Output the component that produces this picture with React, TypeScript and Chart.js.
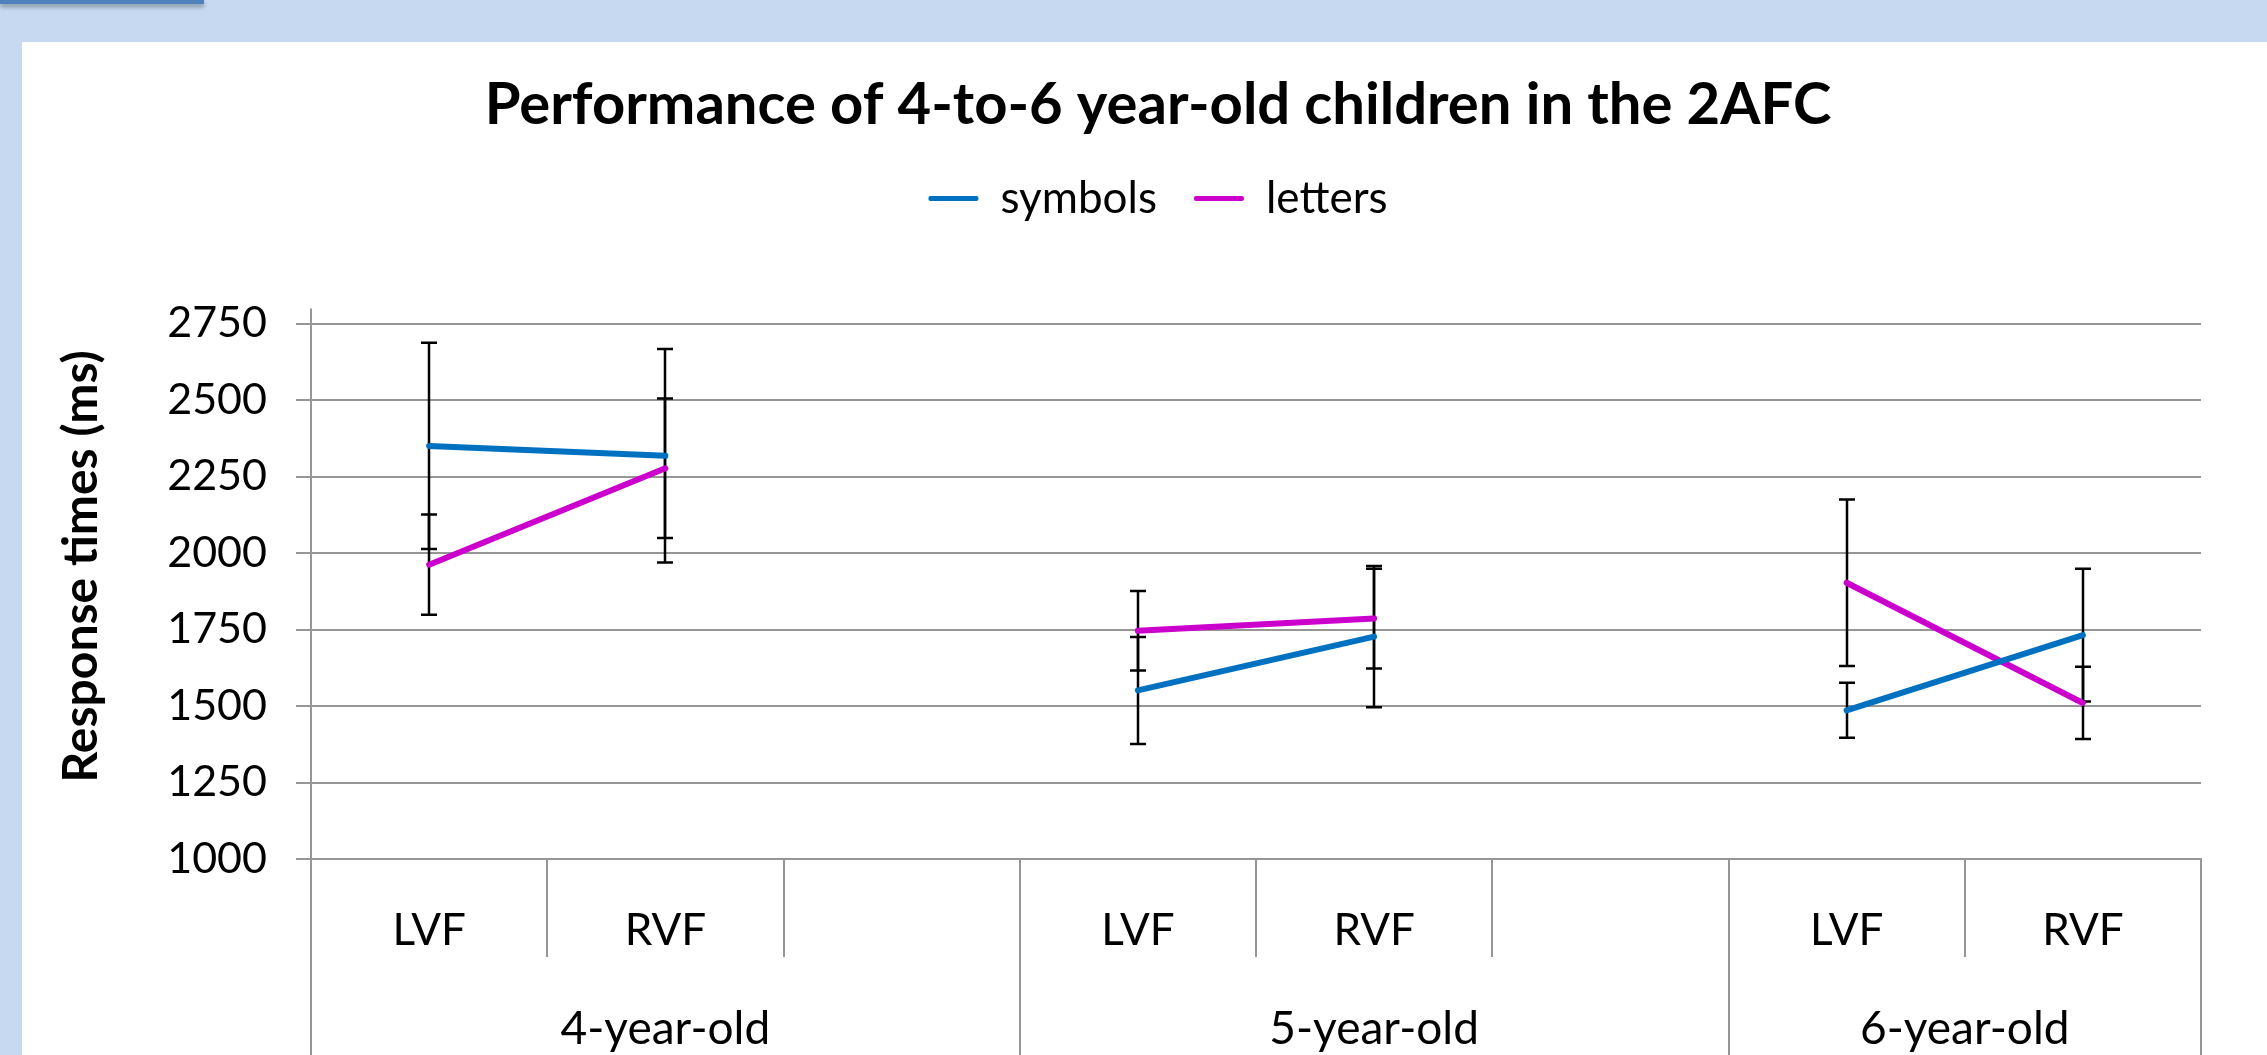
import React, { useEffect, useRef } from 'react';
import { Chart, registerables } from 'chart.js';

Chart.register(...registerables);

// ---- Data ----
const subLabels = ['LVF', 'RVF', '', 'LVF', 'RVF', '', 'LVF', 'RVF'];
const groupLabels = ['4-year-old', '5-year-old', '6-year-old'];
const groupSizes = [3, 3, 2];

const symbolsRT = [2350, 2318, null, 1551, 1727, null, 1486, 1732];
const symbolsErr = [337, 349, null, 175, 231, null, 90, 217];
const lettersRT = [1962, 2277, null, 1746, 1786, null, 1903, 1510];
const lettersErr = [164, 228, null, 130, 163, null, 272, 118];

const yTicks = [1000, 1250, 1500, 1750, 2000, 2250, 2500, 2750];

const titleText = 'Performance of 4-to-6 year-old children in the 2AFC';
const yTitleText = 'Response times (ms)';

const SYMBOL_COLOR = '#0070C0';
const LETTER_COLOR = '#CC00CC';
const GRID = '#969696';
const FONT = 'Lato';

const errorsByDataset = [symbolsErr, lettersErr];

const errorBarPlugin = {
  id: 'errorBars',
  beforeDatasetsDraw(chart: any) {
    const { ctx } = chart;
    const x = chart.scales.x;
    const y = chart.scales.y;
    ctx.save();
    ctx.strokeStyle = '#000';
    ctx.lineWidth = 2.5;
    chart.data.datasets.forEach((ds: any, di: number) => {
      const errs = errorsByDataset[di];
      ds.data.forEach((v: number | null, i: number) => {
        const e = errs[i];
        if (v == null || e == null) return;
        const px = Math.round(x.getPixelForValue(i));
        const yTop = y.getPixelForValue(v + e);
        const yBot = y.getPixelForValue(v - e);
        ctx.beginPath();
        ctx.moveTo(px, yTop);
        ctx.lineTo(px, yBot);
        ctx.moveTo(px - 8, yTop);
        ctx.lineTo(px + 8, yTop);
        ctx.moveTo(px - 8, yBot);
        ctx.lineTo(px + 8, yBot);
        ctx.stroke();
      });
    });
    ctx.restore();
  },
};

const axisDecorPlugin = {
  id: 'axisDecor',
  afterDraw(chart: any) {
    const { ctx, chartArea } = chart;
    const x = chart.scales.x;
    const H = chart.height;
    ctx.save();
    ctx.strokeStyle = GRID;
    ctx.lineWidth = 2;
    // y axis line, extended above plot and down through the category table
    ctx.beginPath();
    ctx.moveTo(chartArea.left, chartArea.top - 15);
    ctx.lineTo(chartArea.left, H);
    ctx.stroke();

    // separators
    const groupBounds: number[] = [0];
    groupSizes.forEach((s) => groupBounds.push(groupBounds[groupBounds.length - 1] + s));
    const subRowBottom = chartArea.bottom + 98;
    for (let b = 1; b <= subLabels.length; b++) {
      const px = Math.round(x.getPixelForValue(b - 0.5));
      const isGroup = groupBounds.includes(b);
      ctx.beginPath();
      ctx.moveTo(px, chartArea.bottom);
      ctx.lineTo(px, isGroup ? H : subRowBottom);
      ctx.stroke();
    }

    // group labels
    ctx.fillStyle = '#000';
    ctx.font = `46px ${FONT}`;
    ctx.textAlign = 'center';
    ctx.textBaseline = 'middle';
    groupLabels.forEach((g, gi) => {
      const start = groupBounds[gi];
      const end = groupBounds[gi + 1];
      const cx = (x.getPixelForValue(start - 0.5) + x.getPixelForValue(end - 0.5)) / 2;
      ctx.fillText(g, cx, chartArea.bottom + 170);
    });

    // y axis title
    ctx.font = `bold 48px ${FONT}`;
    ctx.translate(60, (chartArea.top + chartArea.bottom) / 2 - 25);
    ctx.rotate(-Math.PI / 2);
    ctx.fillText(yTitleText, 0, 0);
    ctx.restore();
  },
};

export default function App() {
  const ref = useRef<HTMLCanvasElement>(null);

  useEffect(() => {
    const lineDefaults = {
      xAxisID: 'x',
      yAxisID: 'y',
      borderWidth: 6,
      borderCapStyle: 'round',
      pointRadius: 0,
      pointHoverRadius: 0,
      spanGaps: false,
      tension: 0,
    };
    const chart = new Chart(ref.current as HTMLCanvasElement, {
      type: 'line',
      data: {
        labels: subLabels,
        datasets: [
          {
            ...lineDefaults,
            label: 'symbols',
            data: symbolsRT,
            borderColor: SYMBOL_COLOR,
            backgroundColor: SYMBOL_COLOR,
          },
          {
            ...lineDefaults,
            label: 'letters',
            data: lettersRT,
            borderColor: LETTER_COLOR,
            backgroundColor: LETTER_COLOR,
          },
        ],
      },
      options: {
        responsive: false,
        animation: false,
        devicePixelRatio: 1,
        layout: { padding: { left: 93, right: 66, top: 0, bottom: 0 } },
        plugins: {
          title: {
            display: true,
            text: titleText,
            color: '#000',
            font: { family: FONT, size: 58, weight: 'bold' },
            padding: { top: 28, bottom: 0 },
          },
          legend: {
            display: true,
            position: 'top',
            labels: {
              color: '#000',
              font: { family: FONT, size: 44 },
              boxWidth: 50,
              boxHeight: 5,
              padding: 37,
              generateLabels: (c: any) =>
                c.data.datasets.map((ds: any, i: number) => ({
                  text: ds.label,
                  fillStyle: ds.borderColor,
                  strokeStyle: ds.borderColor,
                  lineWidth: 0,
                  borderRadius: 2,
                  hidden: false,
                  datasetIndex: i,
                  fontColor: '#000',
                })),
            },
          },
          tooltip: { enabled: false },
        },
        scales: {
          x: {
            type: 'category',
            offset: true,
            grid: { display: false, drawTicks: false },
            border: { display: true, color: GRID, width: 2 },
            ticks: {
              color: '#000',
              font: { family: FONT, size: 44 },
              padding: 45,
              maxRotation: 0,
              autoSkip: false,
            },
            afterFit: (s: any) => {
              s.height = 196;
            },
          },
          y: {
            type: 'linear',
            min: 1000,
            max: 2750,
            afterBuildTicks: (s: any) => {
              s.ticks = yTicks.map((v) => ({ value: v }));
            },
            grid: {
              color: GRID,
              lineWidth: 2,
              drawTicks: true,
              tickLength: 15,
              tickColor: GRID,
            },
            border: { display: true, color: GRID, width: 2 },
            ticks: {
              color: '#000',
              font: { family: FONT, size: 43 },
              padding: 29,
              callback: (v: any) => String(v),
            },
            afterFit: (s: any) => {
              s.width = 196;
            },
          },
          spacer: {
            type: 'linear',
            position: 'top',
            display: true,
            min: 0,
            max: 1,
            grid: { display: false, drawTicks: false },
            border: { display: false },
            ticks: { display: false },
            afterFit: (s: any) => {
              s.height = 93;
            },
          },
        },
      },
      plugins: [errorBarPlugin, axisDecorPlugin],
    } as any);
    return () => chart.destroy();
  }, []);

  return (
    <div
      style={{
        position: 'fixed',
        left: 0,
        top: 0,
        width: 2267,
        height: 1055,
        background: '#C6D9F1',
        overflow: 'hidden',
      }}
    >
      <div
        style={{
          position: 'absolute',
          left: 0,
          top: 0,
          width: 204,
          height: 4,
          background: '#4F81BD',
          boxShadow: '0 3px 4px rgba(0,0,0,0.35)',
        }}
      />
      <div
        style={{
          position: 'absolute',
          left: 22,
          top: 42,
          width: 2245,
          height: 1013,
          background: '#fff',
        }}
      >
        <canvas ref={ref} width={2245} height={1013} style={{ display: 'block' }} />
      </div>
    </div>
  );
}
